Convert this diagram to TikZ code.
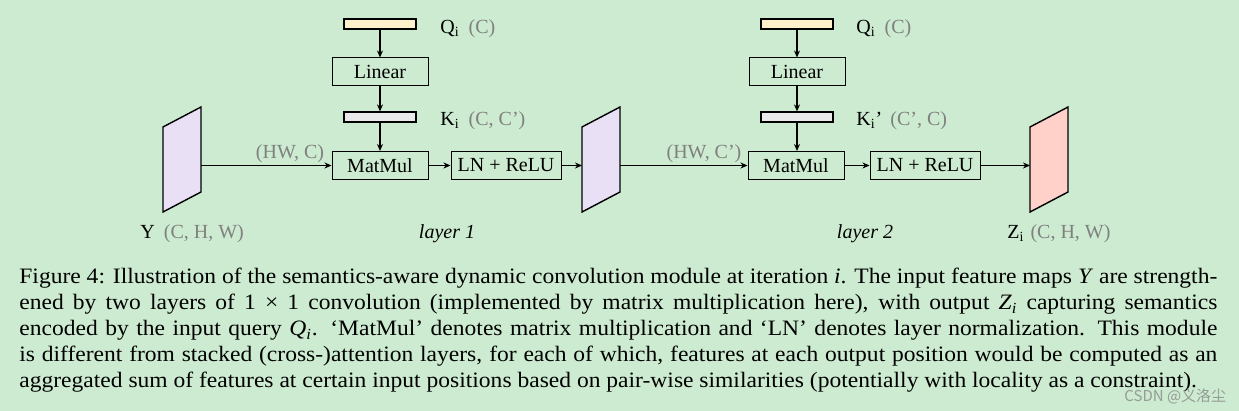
\documentclass[tikz,border=0pt]{standalone}
\usepackage{fontspec}
\setmainfont{Liberation Serif}
\newfontfamily\capfont[FakeStretch=1.07]{Liberation Serif}
\newfontfamily\cjkfont{Noto Sans CJK SC}
\usetikzlibrary{arrows.meta}
\definecolor{bg}{RGB}{204,235,208}
\definecolor{ycol}{RGB}{233,224,245}
\definecolor{zcol}{RGB}{255,209,200}
\definecolor{qcol}{RGB}{255,240,204}
\definecolor{kcol}{RGB}{234,234,234}
\definecolor{dim}{RGB}{128,128,128}
\definecolor{wm}{RGB}{150,155,150}
\tikzset{
  box/.style={draw, line width=0.5pt, inner sep=0, minimum height=14pt},
  bar/.style={draw, line width=0.6pt, inner sep=0, minimum width=36pt, minimum height=5pt},
  arr/.style={-{Stealth[length=3.5pt,width=3pt]}, line width=0.6pt},
  sheet/.style={draw, line width=0.7pt},
  lbl/.style={inner sep=0, anchor=base west},
  dimlbl/.style={inner sep=0, anchor=base, text=dim},
}
\begin{document}
\begin{tikzpicture}[x=0.5pt,y=-0.5pt,font=\fontsize{10pt}{12pt}\selectfont]
\useasboundingbox (0,0) rectangle (1239,411);
\fill[bg] (0,0) rectangle (1239,411);

% layer 1
\node[bar, fill=qcol] (q1) at (380,24) {};
\node[box, minimum width=48pt] (lin1) at (380,72) {Linear};
\node[bar, fill=kcol] (k1) at (380,117) {};
\node[box, minimum width=48pt] (mm1) at (380,165.5) {MatMul};
\node[box, minimum width=55pt] (ln1) at (506,165.5) {LN + ReLU};

% layer 2
\node[bar, fill=qcol] (q2) at (797,24) {};
\node[box, minimum width=48pt] (lin2) at (797,72) {Linear};
\node[bar, fill=kcol] (k2) at (797,117) {};
\node[box, minimum width=48pt] (mm2) at (796,165.5) {MatMul};
\node[box, minimum width=55pt] (ln2) at (925,165.5) {LN + ReLU};

% feature maps
\draw[sheet, fill=ycol] (163,127) -- (201,107) -- (201,192) -- (163,212) -- cycle;
\draw[sheet, fill=ycol] (582,127) -- (620,107) -- (620,192) -- (582,212) -- cycle;
\draw[sheet, fill=zcol] (1030,127) -- (1068,107) -- (1068,192) -- (1030,212) -- cycle;
\coordinate (yout) at (201,165.5);
\coordinate (min) at (582,165.5);
\coordinate (mout) at (620,165.5);
\coordinate (zin) at (1030,165.5);

% connectors
\draw[arr] (q1) -- (lin1);
\draw[arr] (lin1) -- (k1);
\draw[arr] (k1) -- (mm1);
\draw[arr] (yout) -- (mm1.west);
\draw[arr] (mm1) -- (ln1);
\draw[arr] (ln1.east) -- (min);
\draw[arr] (q2) -- (lin2);
\draw[arr] (lin2) -- (k2);
\draw[arr] (k2.south) -- (k2.south |- mm2.north);
\draw[arr] (mout) -- (mm2.west);
\draw[arr] (mm2) -- (ln2);
\draw[arr] (ln2.east) -- (zin);

% labels
\node[lbl] (ql1) at (440,34) {Q\textsubscript{i}\hspace{4.5pt}\textcolor{dim}{(C)}};
\node[lbl] (kl1) at (440,126) {K\textsubscript{i}\hspace{4.5pt}\textcolor{dim}{(C, C’)}};
\node[lbl] (ql2) at (856,34) {Q\textsubscript{i}\hspace{4.5pt}\textcolor{dim}{(C)}};
\node[lbl] (kl2) at (856,126) {K\textsubscript{i}’\hspace{4pt}\textcolor{dim}{(C’, C)}};
\node[lbl] (yl) at (140,239) {Y\hspace{4.5pt}\textcolor{dim}{(C, H, W)}};
\node[lbl] (zl) at (1007,239) {Z\textsubscript{i}\hspace{3pt}\textcolor{dim}{(C, H, W)}};
\node[dimlbl] (hw1) at (290,159) {(HW, C)};
\node[dimlbl] (hw2) at (704,159) {(HW, C’)};
\node[inner sep=0, anchor=base] (lay1) at (447,239) {\textit{layer 1}};
\node[inner sep=0, anchor=base] (lay2) at (865,239) {\textit{layer 2}};

% caption
\node[inner sep=0, anchor=base west, font=\capfont\fontsize{11pt}{13pt}\selectfont] (cap) at (19,284) {\vtop{\hsize=599pt \baselineskip=13pt \lineskiplimit=-20pt
\hbox to\hsize{Figure 4: Illustration of the semantics-aware dynamic convolution module at iteration \textit{i}. The input feature maps \textit{Y} are strength-}
\hbox to\hsize{ened by two layers of 1 × 1 convolution (implemented by matrix multiplication here), with output \textit{Z}\textsubscript{\textit{i}} capturing semantics}
\hbox to\hsize{encoded by the input query \textit{Q}\textsubscript{\textit{i}}. ‘MatMul’ denotes matrix multiplication and ‘LN’ denotes layer normalization. This module}
\hbox to\hsize{is different from stacked (cross-)attention layers, for each of which, features at each output position would be computed as an}
\hbox{aggregated sum of features at certain input positions based on pair-wise similarities (potentially with locality as a constraint).}}};

% watermark
\node[anchor=west, inner sep=0, text=wm, font=\cjkfont\fontsize{7.5pt}{9pt}\selectfont] (wmk) at (1124,396) {CSDN @义洛尘};
\end{tikzpicture}
\end{document}
